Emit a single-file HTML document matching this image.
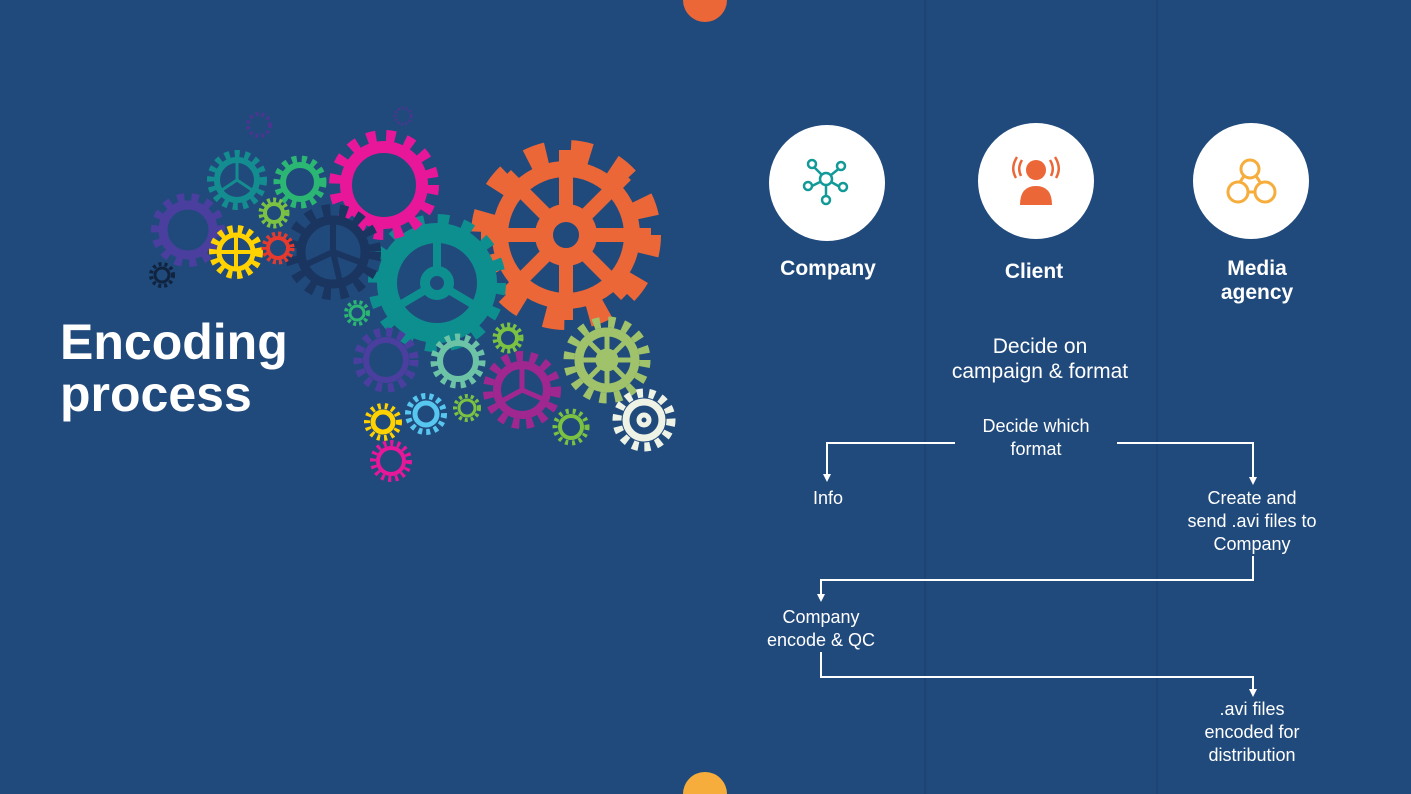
<!DOCTYPE html><html><head><style>
body{margin:0;width:1411px;height:794px;overflow:hidden;background:#214a7c;font-family:"Liberation Sans",sans-serif;position:relative;color:#fff}
.t{position:absolute;text-align:center;transform:translateX(-50%);white-space:nowrap}
.h{font-weight:bold;font-size:21px;line-height:24px}
.f{font-size:18px;line-height:23px}
</style></head><body>
<svg width="1411" height="794" style="position:absolute;left:0;top:0">
<line x1="925" y1="0" x2="925" y2="794" stroke="#1d4372" stroke-width="1.5"/>
<line x1="1157" y1="0" x2="1157" y2="794" stroke="#1d4372" stroke-width="1.5"/>
<circle cx="705" cy="0" r="22" fill="#ec6737"/>
<circle cx="705" cy="794" r="22" fill="#f6ad3c"/>
<g fill="none">
<g stroke="#ec6737"><circle cx="566" cy="235" r="84" stroke-width="22" stroke-dasharray="20 24.5"/><circle cx="566" cy="235" r="66" stroke-width="16"/><circle cx="566" cy="235" r="22" stroke-width="18"/><path d="M566 213V150M566 257V320M544 235H481M588 235H651M551 220L506 175M581 250L626 295M581 220L626 175M551 250L506 295" stroke-width="14"/></g>
<g stroke="#0e8f8f"><circle cx="437" cy="283" r="61" stroke-width="16" stroke-dasharray="11 13"/><circle cx="437" cy="283" r="50" stroke-width="20"/><circle cx="437" cy="283" r="12" stroke-width="10"/><path d="M437 271V240M427 289L400 305M447 289L474 305" stroke-width="8"/></g>
<g stroke="#e8179a"><circle cx="384" cy="185" r="48" stroke-width="14" stroke-dasharray="9 10"/><circle cx="384" cy="185" r="38" stroke-width="12"/></g>
<g stroke="#1a3560"><circle cx="333" cy="252" r="42" stroke-width="12" stroke-dasharray="8 9"/><circle cx="333" cy="252" r="32" stroke-width="9"/><path d="M333 252V222M333 252L360 262M333 252L305 265M333 252L340 282" stroke-width="6"/></g>
<g stroke="#4a3f9f"><circle cx="188" cy="230" r="32" stroke-width="10" stroke-dasharray="7 7"/><circle cx="188" cy="230" r="25" stroke-width="9"/></g>
<g stroke="#138d8f"><circle cx="237" cy="180" r="26" stroke-width="8" stroke-dasharray="5 5"/><circle cx="237" cy="180" r="20" stroke-width="6"/><path d="M237 180V162M237 180L252 190M237 180L222 190" stroke-width="3"/></g>
<g stroke="#2bb673"><circle cx="300" cy="182" r="23" stroke-width="7" stroke-dasharray="5 5"/><circle cx="300" cy="182" r="17" stroke-width="6"/></g>
<g stroke="#ffd200"><circle cx="236" cy="252" r="23" stroke-width="8" stroke-dasharray="5 5"/><circle cx="236" cy="252" r="17" stroke-width="5"/><path d="M236 235V269M219 252H253" stroke-width="4"/></g>
<g stroke="#e63a2e"><circle cx="278" cy="248" r="14" stroke-width="5" stroke-dasharray="3 3"/><circle cx="278" cy="248" r="10" stroke-width="4"/></g>
<g stroke="#7cc242"><circle cx="274" cy="213" r="13" stroke-width="5" stroke-dasharray="3 3"/><circle cx="274" cy="213" r="9" stroke-width="4"/></g>
<g stroke="#10233f"><circle cx="162" cy="275" r="11" stroke-width="4" stroke-dasharray="3 3"/><circle cx="162" cy="275" r="7" stroke-width="3"/></g>
<g stroke="#4a3590"><circle cx="259" cy="125" r="11" stroke-width="4" stroke-dasharray="3 3"/><circle cx="403" cy="116" r="8" stroke-width="3" stroke-dasharray="2 2"/></g>
<g stroke="#2bb673"><circle cx="357" cy="313" r="11" stroke-width="4" stroke-dasharray="3 3"/><circle cx="357" cy="313" r="7" stroke-width="3"/></g>
<g stroke="#4a3f9f"><circle cx="386" cy="360" r="28" stroke-width="9" stroke-dasharray="6 6"/><circle cx="386" cy="360" r="20" stroke-width="6"/></g>
<g stroke="#6cc3a6"><circle cx="458" cy="361" r="24" stroke-width="7" stroke-dasharray="5 5"/><circle cx="458" cy="361" r="18" stroke-width="6"/></g>
<g stroke="#7cc242"><circle cx="508" cy="338" r="13" stroke-width="5" stroke-dasharray="3 3"/><circle cx="508" cy="338" r="9" stroke-width="4"/></g>
<g stroke="#9fc26a"><circle cx="607" cy="360" r="38" stroke-width="11" stroke-dasharray="7 8"/><circle cx="607" cy="360" r="28" stroke-width="9"/><circle cx="607" cy="360" r="8" stroke-width="7"/><path d="M607 332V388M579 360H635M587 340L627 380M627 340L587 380" stroke-width="5"/></g>
<g stroke="#a0278f"><circle cx="522" cy="390" r="34" stroke-width="10" stroke-dasharray="7 7"/><circle cx="522" cy="390" r="25" stroke-width="8"/><path d="M522 390V365M522 390L545 400M522 390L500 402" stroke-width="5"/></g>
<g stroke="#eef3e6"><circle cx="644" cy="420" r="27" stroke-width="9" stroke-dasharray="6 6"/><circle cx="644" cy="420" r="18" stroke-width="7"/><circle cx="644" cy="420" r="5" stroke-width="5"/></g>
<g stroke="#7cc242"><circle cx="571" cy="427" r="16" stroke-width="5" stroke-dasharray="3 4"/><circle cx="571" cy="427" r="11" stroke-width="4"/></g>
<g stroke="#ffd200"><circle cx="383" cy="422" r="16" stroke-width="6" stroke-dasharray="3 4"/><circle cx="383" cy="422" r="10" stroke-width="5"/></g>
<g stroke="#58c7f0"><circle cx="426" cy="414" r="18" stroke-width="6" stroke-dasharray="4 4"/><circle cx="426" cy="414" r="11" stroke-width="5"/></g>
<g stroke="#7cc242"><circle cx="467" cy="408" r="12" stroke-width="4" stroke-dasharray="3 3"/><circle cx="467" cy="408" r="8" stroke-width="3"/></g>
<g stroke="#e8179a"><circle cx="391" cy="461" r="18" stroke-width="6" stroke-dasharray="3 4"/><circle cx="391" cy="461" r="13" stroke-width="4"/></g>
</g>
<circle cx="827" cy="183" r="58" fill="#fff"/>
<circle cx="1036" cy="181" r="58" fill="#fff"/>
<circle cx="1251" cy="181" r="58" fill="#fff"/>
<g stroke="#119a98" stroke-width="2.5" fill="#fff">
<path d="M826 179L812 165M826 179L841 167M826 179L812 186M826 179L840 187M826 179V196"/>
<circle cx="812" cy="164" r="4"/><circle cx="841" cy="166" r="4"/><circle cx="808" cy="186" r="4"/><circle cx="843" cy="187" r="4"/><circle cx="826" cy="200" r="4"/><circle cx="826" cy="179" r="6"/>
</g>
<g fill="#ec6737"><circle cx="1036" cy="170" r="10"/><path d="M1020 205Q1020 186 1036 186Q1052 186 1052 205Z"/></g>
<g stroke="#ec6737" stroke-width="2.5" fill="none"><path d="M1022 160Q1017 168 1021 176M1050 160Q1055 168 1051 176M1017 157Q1010 168 1016 178M1055 157Q1062 168 1056 178"/></g>
<g stroke="#f6ad3c" stroke-width="3" fill="none"><circle cx="1250" cy="169" r="9"/><circle cx="1238" cy="192" r="10"/><circle cx="1265" cy="192" r="10"/><path d="M1248 192H1255M1244 176L1240 182M1256 176L1260 182"/></g>
<g stroke="#fff" stroke-width="2" fill="none">
<path d="M955 443H827V474M1117 443H1253V479M1253 556V580H821V596M821 652V677H1253V692"/>
</g>
<g fill="#fff"><path d="M823 474H831L827 482Z"/><path d="M1249 477H1257L1253 485Z"/><path d="M817 594H825L821 602Z"/><path d="M1249 689H1257L1253 697Z"/></g>
</svg>
<div style="position:absolute;left:60px;top:316px;font-weight:bold;font-size:50px;line-height:52px">Encoding<br>process</div>
<div class="t h" style="left:828px;top:257px">Company</div>
<div class="t h" style="left:1034px;top:260px">Client</div>
<div class="t h" style="left:1257px;top:257px">Media<br>agency</div>
<div class="t" style="left:1040px;top:334px;font-size:21px;line-height:25px">Decide on<br>campaign &amp; format</div>
<div class="t f" style="left:1036px;top:415px">Decide which<br>format</div>
<div class="t f" style="left:828px;top:487px">Info</div>
<div class="t f" style="left:1252px;top:487px">Create and<br>send .avi files to<br>Company</div>
<div class="t f" style="left:821px;top:606px">Company<br>encode &amp; QC</div>
<div class="t f" style="left:1252px;top:698px">.avi files<br>encoded for<br>distribution</div>
</body></html>
